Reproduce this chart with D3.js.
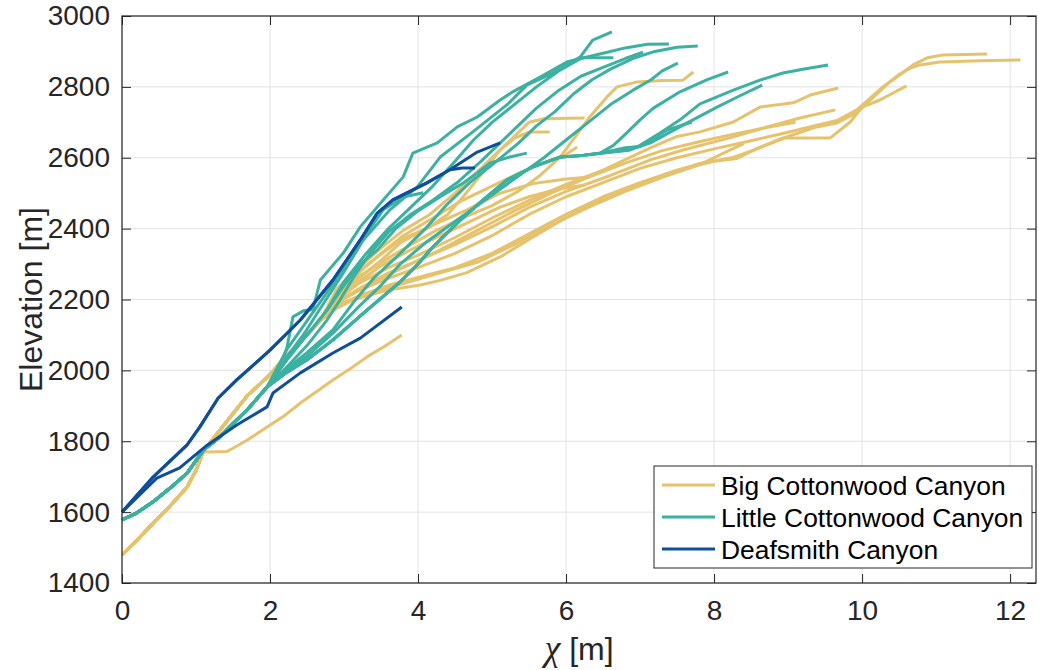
<!DOCTYPE html>
<html>
<head>
<meta charset="utf-8">
<script src="https://cdn.jsdelivr.net/npm/d3@7"></script>
<style>
  body { margin: 0; background: #fff; }
  text { font-family: "Liberation Sans", Arial, Helvetica, sans-serif; }
</style>
</head>
<body>
<script>
'use strict';

// ---- data (chi [m], elevation [m]) ----
var xTicks = [0, 2, 4, 6, 8, 10, 12];
var yTicks = [1400, 1600, 1800, 2000, 2200, 2400, 2600, 2800, 3000];
var seriesNames = ["Big Cottonwood Canyon", "Little Cottonwood Canyon", "Deafsmith Canyon"];
var seriesColors = ["#e6c26c", "#3ab1a1", "#0d4f9d"];

// Big Cottonwood: shared trunk, then a fan, then the tributary tails
var bccTrunk = [[0, 1479], [0.2, 1520], [0.42, 1569], [0.65, 1617], [0.88, 1671], [1.0, 1718], [1.1, 1772]];
var bccLow = [[1.17, 1770], [1.42, 1771], [1.69, 1803], [1.96, 1840], [2.2, 1873], [2.41, 1908], [2.65, 1943],
              [2.85, 1973], [3.1, 2007], [3.31, 2038], [3.55, 2068], [3.78, 2100]];
var bccFan = [[1.25, 1812], [1.45, 1865], [1.7, 1930], [1.96, 1980], [2.2, 2035], [2.45, 2090], [2.68, 2140]];
var bccTails = [
  [[2.9, 2175], [3.12, 2199], [3.58, 2226], [4.03, 2241], [4.3, 2254], [4.66, 2276], [5.11, 2320], [5.55, 2376],
   [6.01, 2432], [6.46, 2480], [6.91, 2517], [7.36, 2555], [7.81, 2584], [8.26, 2601], [8.62, 2628], [9.0, 2660],
   [9.35, 2685], [9.66, 2698], [9.93, 2727], [10.15, 2770], [10.35, 2810], [10.5, 2835], [10.65, 2853],
   [10.78, 2862], [11.05, 2870], [11.6, 2874], [12.14, 2876]],
  [[2.9, 2180], [3.2, 2210], [3.6, 2240], [4.0, 2262], [4.5, 2290], [5.0, 2330], [5.5, 2385], [6.0, 2440],
   [6.5, 2490], [7.0, 2530], [7.5, 2565], [8.0, 2590], [8.31, 2598], [8.62, 2630], [8.93, 2656], [9.57, 2656],
   [9.84, 2701], [10.0, 2743], [10.24, 2763], [10.6, 2803]],
  [[2.9, 2190], [3.2, 2225], [3.6, 2260], [4.0, 2290], [4.5, 2330], [5.0, 2380], [5.5, 2440], [6.0, 2490],
   [6.5, 2530], [7.0, 2570], [7.5, 2600], [8.0, 2625], [8.5, 2648], [9.0, 2672], [9.35, 2690], [9.66, 2705],
   [9.93, 2735], [10.28, 2800], [10.47, 2828], [10.69, 2862], [10.88, 2882], [11.09, 2890], [11.69, 2893]],
  [[2.9, 2200], [3.2, 2245], [3.6, 2290], [4.0, 2325], [4.5, 2375], [5.0, 2430], [5.5, 2480], [6.0, 2525],
   [6.5, 2565], [7.14, 2628], [7.5, 2660], [7.81, 2673], [8.26, 2701], [8.62, 2743], [9.07, 2755], [9.3, 2777],
   [9.68, 2797]],
  [[2.9, 2190], [3.2, 2230], [3.6, 2275], [4.0, 2310], [4.5, 2355], [5.0, 2405], [5.5, 2460], [6.0, 2505],
   [6.6, 2550], [7.14, 2594], [7.58, 2622], [8.26, 2659], [8.72, 2687], [9.16, 2712], [9.64, 2735]],
  [[2.9, 2195], [3.3, 2240], [3.8, 2290], [4.3, 2340], [4.8, 2395], [5.3, 2450], [5.8, 2500], [6.3, 2545],
   [6.8, 2585], [7.3, 2620], [7.8, 2645], [8.3, 2668], [8.7, 2685], [9.1, 2700]],
  [[2.9, 2185], [3.3, 2215], [3.8, 2245], [4.3, 2275], [4.8, 2305], [5.3, 2355], [5.8, 2410], [6.3, 2460],
   [6.8, 2505], [7.3, 2545], [7.8, 2580], [8.1, 2610], [8.4, 2640]],
  [[2.9, 2205], [3.2, 2260], [3.5, 2310], [3.76, 2360], [4.2, 2410], [4.66, 2453], [5.11, 2500], [5.55, 2527],
   [6.0, 2540], [6.32, 2546]],
  [[2.9, 2200], [3.2, 2250], [3.5, 2295], [3.9, 2340], [4.3, 2380], [4.7, 2420], [5.1, 2460], [5.5, 2490],
   [5.9, 2512], [6.26, 2523]],
  [[2.9, 2215], [3.2, 2275], [3.5, 2330], [3.8, 2380], [4.2, 2430], [4.6, 2480], [5.0, 2520], [5.4, 2560],
   [5.75, 2590], [5.99, 2608], [6.15, 2630]],
  [[2.9, 2220], [3.2, 2265], [3.7, 2330], [4.2, 2390], [4.6, 2430], [5.0, 2465], [5.35, 2505], [5.65, 2550],
   [5.92, 2602], [6.19, 2678], [6.32, 2715], [6.55, 2771], [6.69, 2800], [6.96, 2814], [7.3, 2818], [7.58, 2819],
   [7.72, 2842]],
  [[2.9, 2225], [3.2, 2280], [3.45, 2320], [3.76, 2368], [4.16, 2405], [4.4, 2440], [4.61, 2490], [4.88, 2560],
   [5.1, 2620], [5.3, 2655], [5.51, 2673], [5.78, 2673]],
  [[2.9, 2230], [3.2, 2290], [3.5, 2345], [3.8, 2395], [4.16, 2440], [4.5, 2500], [4.8, 2560], [5.05, 2610],
   [5.3, 2660], [5.5, 2700], [5.7, 2710], [6.25, 2712]]
];

// Little Cottonwood
var lccTrunk = [[0, 1578], [0.2, 1598], [0.42, 1629], [0.65, 1668], [0.88, 1710], [1.1, 1775], [1.32, 1812],
                [1.5, 1850], [1.69, 1888], [1.96, 1953]];
var lccFlat = [[2.23, 1995], [2.5, 2030], [2.85, 2086], [3.31, 2170], [3.76, 2250], [4.0, 2300], [4.2, 2348],
               [4.57, 2424], [4.88, 2481], [5.2, 2537], [5.55, 2574], [5.92, 2602], [6.2, 2606], [6.46, 2613]];
var lccTails = [
  [[2.14, 2010], [2.23, 2066], [2.31, 2151], [2.45, 2168], [2.58, 2172], [2.68, 2255], [2.99, 2331], [3.22, 2405],
   [3.53, 2481], [3.8, 2546], [3.93, 2613], [4.26, 2642], [4.53, 2687], [4.8, 2715], [5.11, 2763], [5.28, 2786],
   [5.65, 2828], [6.01, 2870], [6.23, 2882], [6.64, 2882]],
  [[2.2, 2030], [2.45, 2100], [2.64, 2162], [2.99, 2275], [3.26, 2368], [3.62, 2453], [3.99, 2518], [4.3, 2602],
   [4.74, 2673], [5.2, 2749], [5.47, 2805], [5.82, 2839], [6.19, 2884], [6.36, 2932], [6.62, 2955]],
  [[2.23, 2030], [2.5, 2100], [2.77, 2170], [3.0, 2250], [3.3, 2330], [3.6, 2400], [3.9, 2460], [4.2, 2520],
   [4.5, 2590], [4.75, 2650], [5.0, 2700], [5.3, 2750], [5.6, 2800], [5.9, 2845], [6.2, 2880], [6.5, 2895],
   [6.8, 2910], [7.1, 2920], [7.39, 2921]],
  [[2.23, 2010], [2.5, 2070], [2.77, 2142], [2.95, 2200], [3.12, 2260], [3.35, 2330], [3.6, 2390], [3.9, 2440],
   [4.2, 2480], [4.53, 2530], [4.85, 2590], [5.1, 2640], [5.35, 2690], [5.6, 2740], [5.9, 2790], [6.2, 2830],
   [6.5, 2855], [6.8, 2880], [7.04, 2898]],
  [[2.14, 1990], [2.5, 2050], [2.85, 2114], [3.12, 2190], [3.4, 2260], [3.76, 2330], [4.1, 2400], [4.4, 2470],
   [4.7, 2530], [5.0, 2580], [5.35, 2640], [5.6, 2690], [5.85, 2730], [6.1, 2780], [6.35, 2820], [6.6, 2850],
   [6.9, 2880], [7.2, 2900], [7.5, 2912], [7.78, 2915]],
  [[2.14, 1985], [2.5, 2040], [2.85, 2105], [3.2, 2180], [3.5, 2240], [3.76, 2300], [4.1, 2360], [4.5, 2420],
   [4.9, 2480], [5.3, 2540], [5.7, 2600], [6.0, 2650], [6.3, 2700], [6.6, 2750], [6.9, 2790], [7.15, 2820],
   [7.3, 2845], [7.51, 2867]],
  [[2.23, 2040], [2.5, 2100], [2.77, 2170], [3.0, 2240], [3.22, 2300], [3.45, 2340], [3.7, 2400], [4.0, 2450],
   [4.3, 2490], [4.61, 2529], [4.8, 2557], [4.97, 2585], [5.24, 2602], [5.47, 2613]],
  [[2.23, 2060], [2.5, 2140], [2.77, 2220], [3.08, 2311], [3.31, 2388], [3.53, 2453], [3.8, 2489], [4.07, 2501]]
];
var lccFlatTails = [
  [[6.86, 2622], [7.0, 2635], [7.27, 2670], [7.54, 2707], [7.81, 2752], [8.26, 2791], [8.62, 2819], [8.93, 2839],
   [9.2, 2850], [9.54, 2862]],
  [[6.86, 2622], [7.14, 2642], [7.58, 2692], [8.04, 2743], [8.35, 2775], [8.65, 2805]],
  [[6.8, 2628], [7.0, 2632], [7.36, 2678], [7.7, 2701]],
  [[6.64, 2635], [6.82, 2670], [7.0, 2707], [7.18, 2740], [7.54, 2786], [7.9, 2820], [8.19, 2842]]
];

// Deafsmith
var dsUpper = [[0, 1600], [0.42, 1699], [0.88, 1790], [1.05, 1840], [1.3, 1922], [1.55, 1973], [2.0, 2057],
               [2.41, 2142], [2.85, 2255], [3.22, 2368], [3.45, 2444], [3.66, 2481], [4.12, 2529], [4.43, 2566]];
var dsUpperEnd = [[4.8, 2616], [5.11, 2642]];
var dsBranchEnd = [[4.6, 2571], [4.77, 2571]];
var dsLower = [[0, 1600], [0.47, 1696], [0.78, 1725], [1.15, 1789], [1.55, 1846], [1.96, 1897], [2.04, 1936],
               [2.41, 1993], [2.85, 2049], [3.22, 2091], [3.78, 2179]];

(function() {

    var width = 1039,
        height = 670;

    var left = 122, right = 1036, top = 16, bottom = 583;

    var x = d3.scaleLinear().domain([0, 12.35]).range([left, right]);
    var y = d3.scaleLinear().domain([1400, 3000]).range([bottom, top]);

    var bigCottonwood = [bccTrunk.concat(bccLow)].concat(bccTails.map(function(t) {
        return bccTrunk.concat(bccFan, t);
    }));
    var littleCottonwood = lccTails.map(function(t) { return lccTrunk.concat(t); })
        .concat(lccFlatTails.map(function(t) { return lccTrunk.concat(lccFlat, t); }));
    var deafsmith = [dsUpper.concat(dsUpperEnd), dsUpper.concat(dsBranchEnd), dsLower];
    var groups = [bigCottonwood, littleCottonwood, deafsmith];

    var svg = d3.select("body")
        .append("svg")
        .attr("width", width)
        .attr("height", height);

    // grid
    var grid = svg.append("g").attr("id", "grid");
    grid.selectAll("line.gx")
        .data(xTicks)
        .enter()
        .append("line")
        .attr("x1", d => x(d)).attr("x2", d => x(d))
        .attr("y1", top).attr("y2", bottom)
        .attr("stroke", "#e3e3e3").attr("stroke-width", 1);
    grid.selectAll("line.gy")
        .data(yTicks)
        .enter()
        .append("line")
        .attr("x1", left).attr("x2", right)
        .attr("y1", d => y(d)).attr("y2", d => y(d))
        .attr("stroke", "#e3e3e3").attr("stroke-width", 1);

    // profiles
    var line = d3.line()
        .x(d => x(d[0]))
        .y(d => y(d[1]));

    var lines = svg.append("g").attr("id", "profiles");
    groups.forEach(function(g, i) {
        lines.append("g")
            .selectAll("path")
            .data(g)
            .enter()
            .append("path")
            .attr("d", line)
            .attr("fill", "none")
            .attr("stroke", seriesColors[i])
            .attr("stroke-width", 3)
            .attr("stroke-linejoin", "round");
    });

    // axes box with inward ticks
    var axisColor = "#262626";
    var tickLen = 9;
    var fmt = d3.format("d");
    svg.append("g")
        .attr("transform", "translate(0," + bottom + ")")
        .call(d3.axisBottom(x).tickValues(xTicks).tickFormat(fmt).tickSizeInner(-tickLen).tickSizeOuter(0).tickPadding(17))
        .call(g => g.select(".domain").remove());
    svg.append("g")
        .attr("transform", "translate(0," + top + ")")
        .call(d3.axisTop(x).tickValues(xTicks).tickSizeInner(-tickLen).tickSizeOuter(0).tickFormat(""))
        .call(g => g.select(".domain").remove());
    svg.append("g")
        .attr("transform", "translate(" + left + ",0)")
        .call(d3.axisLeft(y).tickValues(yTicks).tickFormat(fmt).tickSizeInner(-tickLen).tickSizeOuter(0).tickPadding(12))
        .call(g => g.select(".domain").remove());
    svg.append("g")
        .attr("transform", "translate(" + right + ",0)")
        .call(d3.axisRight(y).tickValues(yTicks).tickSizeInner(-tickLen).tickSizeOuter(0).tickFormat(""))
        .call(g => g.select(".domain").remove());

    svg.selectAll(".tick line").attr("stroke", axisColor).attr("stroke-width", 1);
    svg.selectAll(".tick text")
        .attr("fill", axisColor)
        .style("font-size", "28px")
        .style("font-family", "'Liberation Sans', Arial, sans-serif");

    svg.append("rect")
        .attr("x", left).attr("y", top)
        .attr("width", right - left).attr("height", bottom - top)
        .attr("fill", "none")
        .attr("stroke", axisColor)
        .attr("stroke-width", 1.2);

    // axis labels
    svg.append("text")
        .attr("transform", "translate(42," + ((top + bottom) / 2) + ") rotate(-90)")
        .attr("text-anchor", "middle")
        .attr("fill", axisColor)
        .style("font-size", "32px")
        .text("Elevation [m]");

    var xl = svg.append("text")
        .attr("x", (left + right) / 2)
        .attr("y", 660)
        .attr("text-anchor", "middle")
        .attr("fill", axisColor)
        .style("font-size", "32px");
    xl.append("tspan")
        .style("font-family", "'Liberation Serif', 'DejaVu Serif', serif")
        .style("font-style", "italic")
        .style("font-size", "36px")
        .text("χ");
    xl.append("tspan").text(" [m]");

    // legend
    var legend = svg.append("g").attr("id", "legend");
    legend.append("rect")
        .attr("x", 654).attr("y", 466)
        .attr("width", 378).attr("height", 102)
        .attr("fill", "#fff")
        .attr("stroke", axisColor)
        .attr("stroke-width", 1);
    var items = legend.selectAll("g.item")
        .data(seriesNames)
        .enter()
        .append("g")
        .attr("transform", (d, i) => "translate(0," + (485 + i * 32) + ")");
    items.append("line")
        .attr("x1", 662).attr("x2", 715)
        .attr("y1", 0).attr("y2", 0)
        .attr("stroke", (d, i) => seriesColors[i])
        .attr("stroke-width", 3);
    items.append("text")
        .attr("x", 721)
        .attr("y", 10)
        .attr("fill", "#000")
        .style("font-size", "26.4px")
        .text(d => d);
})();
</script>
</body>
</html>
